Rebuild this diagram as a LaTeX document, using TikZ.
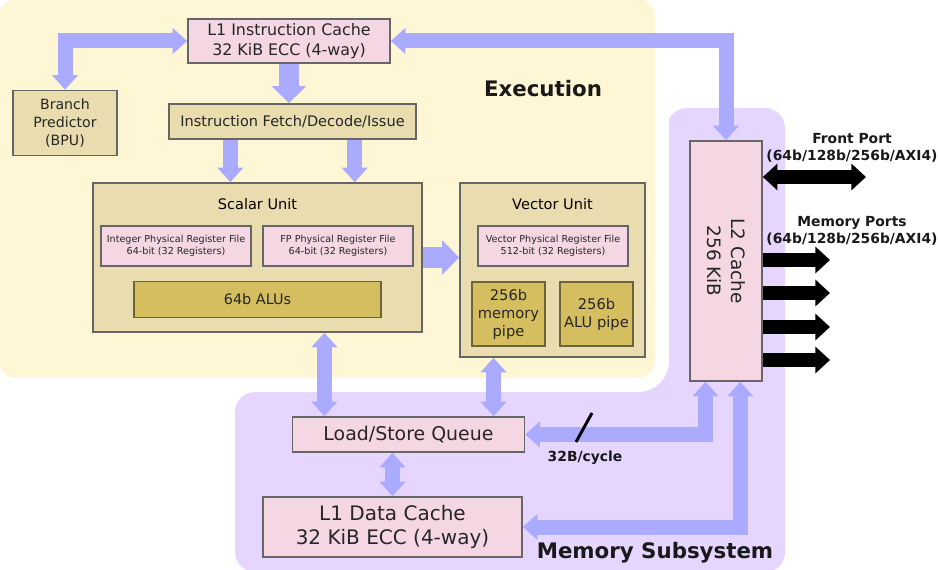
\documentclass[tikz,border=0pt]{standalone}
\usepackage{fontspec}
\setmainfont{DejaVu Sans}
\usepackage{xcolor}
\usepackage{tikz}
\usetikzlibrary{arrows.meta}
\usetikzlibrary{calc}
\definecolor{execbg}{RGB}{255, 246, 213}
\definecolor{memorybg}{RGB}{229, 213, 255}
\definecolor{cachepink}{RGB}{244, 215, 227}
\definecolor{unittan}{RGB}{233, 221, 175}
\definecolor{pipeolive}{RGB}{212, 190, 95}
\definecolor{flowblue}{RGB}{170, 170, 255}
\definecolor{boxline}{RGB}{102, 102, 102}
\definecolor{pipeline}{RGB}{110, 100, 60}

\begin{document}
\begin{tikzpicture}[x=0.75pt, y=-0.75pt,
            box/.style = {draw=boxline, line width=1.2pt, text=black!85, align=center, inner sep=0pt},
            cache/.style = {box, fill=cachepink},
            unit/.style = {box, fill=unittan},
            pipe/.style = {box, fill=pipeolive, draw=pipeline},
            big/.style = {font=\fontsize{15}{18}\selectfont},
            mid/.style = {font=\fontsize{10.9}{13.5}\selectfont},
            tiny/.style = {font=\fontsize{7.2}{9}\selectfont},
            flow/.style = {draw=flowblue, line width=11.25pt, -{Triangle[width=19pt,length=11pt]}},
            flowboth/.style = {flow, {Triangle[width=19pt,length=11pt]}-{Triangle[width=19pt,length=11pt]}},
            flowwide/.style = {draw=flowblue, line width=15pt, -{Triangle[width=25pt,length=12.75pt]}},
            port/.style = {draw=black, line width=10pt, -{Triangle[width=19.5pt,length=11pt]}},
            portboth/.style = {port, {Triangle[width=19.5pt,length=11pt]}-{Triangle[width=19.5pt,length=11pt]}},
            title/.style = {font=\fontsize{16}{18}\selectfont\bfseries, text=black!90, anchor=base},
            portlabel/.style = {font=\fontsize{10.4}{12.75}\selectfont\bfseries, text=black!90, align=center}]
        \useasboundingbox (0,0) rectangle (938,570);

        % regions
        \fill[memorybg, rounded corners=15pt] (667,108) rectangle (785,572);
        \fill[memorybg, rounded corners=15pt] (235,392) rectangle (785,572);
        \fill[memorybg] (640,330) rectangle (720,430);
        \draw[fill=execbg, draw=white, line width=10.5pt, rounded corners=18pt] (-8,-8) rectangle (662,385);
        \node[title] (exec) at (543,97) {Execution};
        \node[title] (memsys) at (655,558) {Memory Subsystem};

        % execution blocks
        \node[cache, font=\fontsize{11.9}{15}\selectfont, minimum width=151.5pt, minimum height=33pt] (l1i) at (289,41) {L1 Instruction Cache\\32 KiB ECC (4-way)};
        \node[unit, font=\fontsize{10.6}{13.5}\selectfont, minimum width=78pt, minimum height=48.75pt] (bpu) at (65,123) {Branch\\Predictor\\(BPU)};
        \node[unit, mid, minimum width=185.25pt, minimum height=26.25pt] (ifdi) at (292.5,121.5) {Instruction Fetch/Decode/Issue};
        \node[unit, minimum width=246.75pt, minimum height=111.75pt] (scalar) at (257.5,257.5) {};
        \node[mid] (scalartitle) at (257.5,204) {Scalar Unit};
        \node[cache, tiny, minimum width=112.5pt, minimum height=30pt] (intprf) at (176,246) {Integer Physical Register File\\64-bit (32 Registers)};
        \node[cache, tiny, minimum width=112.5pt, minimum height=30pt] (fpprf) at (338,246) {FP Physical Register File\\64-bit (32 Registers)};
        \node[pipe, font=\fontsize{10.8}{13.5}\selectfont, minimum width=185.25pt, minimum height=27pt] (alus) at (257.5,299.5) {64b ALUs};
        \node[unit, minimum width=138.75pt, minimum height=130.5pt] (vector) at (552.5,270) {};
        \node[mid] (vectortitle) at (552.5,204) {Vector Unit};
        \node[cache, tiny, minimum width=112.5pt, minimum height=30pt] (vecprf) at (553,246) {Vector Physical Register File\\512-bit (32 Registers)};
        \node[pipe, font=\fontsize{11}{13.5}\selectfont, minimum width=54.75pt, minimum height=48pt] (mempipe) at (508.5,314) {256b\\memory\\pipe};
        \node[pipe, font=\fontsize{11}{13.5}\selectfont, minimum width=54.75pt, minimum height=48pt] (alupipe) at (596.5,314) {256b\\ALU pipe};

        % memory blocks
        \node[cache, minimum width=54pt, minimum height=180pt] (l2) at (726,261) {};
        \node[font=\fontsize{13.8}{18}\selectfont, rotate=-90, align=center, text=black!85] (l2text) at (l2.center) {L2 Cache\\256 KiB};
        \node[cache, font=\fontsize{14.2}{18}\selectfont, minimum width=174pt, minimum height=26.25pt] (lsq) at (408.5,434.5) {Load/Store Queue};
        \node[cache, big, minimum width=194.25pt, minimum height=45pt] (l1d) at (392.5,527) {L1 Data Cache\\32 KiB ECC (4-way)};

        % blue paths
        \path ($(ifdi.south west)!.25!(ifdi.south east)$) coordinate (issue1)
              ($(ifdi.south west)!.75!(ifdi.south east)$) coordinate (issue2)
              ($(lsq.north west)!.14!(lsq.north east)$) coordinate (lsqin1)
              ($(lsq.north west)!.864!(lsq.north east)$) coordinate (lsqin2)
              ($(l2.south west)!.222!(l2.south east)$) coordinate (l2out1)
              ($(l2.south west)!.694!(l2.south east)$) coordinate (l2out2);
        \draw[flowboth] (l1i.west) -| (bpu.north);
        \draw[flowboth] (l1i.east) -| (l2.north);
        \draw[flowwide] (l1i.south) -- (l1i.south |- ifdi.north);
        \draw[flow] (issue1) -- (issue1 |- scalar.north);
        \draw[flow] (issue2) -- (issue2 |- scalar.north);
        \draw[flowwide] (scalar.east) -- (scalar.east -| vector.west);
        \draw[flowboth] (scalar.south -| lsqin1) -- (lsqin1);
        \draw[flowboth] (vector.south -| lsqin2) -- (lsqin2);
        \draw[flowboth] (lsq.south -| l1d.north) -- (l1d.north);
        \draw[flowboth] (l2out1) |- (lsq.east);
        \draw[flowboth] (l2out2) |- (l1d.east);
        \draw[line width=2.2pt] (592,413) -- (576,442);
        \node[portlabel, anchor=base] (width) at (585,461) {32B/cycle};

        % ports
        \coordinate (frontport) at (866,177);
        \draw[portboth] (l2.east |- frontport) -- (frontport);
        \foreach \y [count=\i] in {260,293,327,360} {
            \coordinate (memport\i) at (830,\y);
            \draw[port] (l2.east |- memport\i) -- (memport\i);
        }
        \node[portlabel] (frontlabel) at (852,148) {Front Port\\(64b/128b/256b/AXI4)};
        \node[portlabel] (memlabel) at (852,231) {Memory Ports\\(64b/128b/256b/AXI4)};
\end{tikzpicture}
\end{document}
